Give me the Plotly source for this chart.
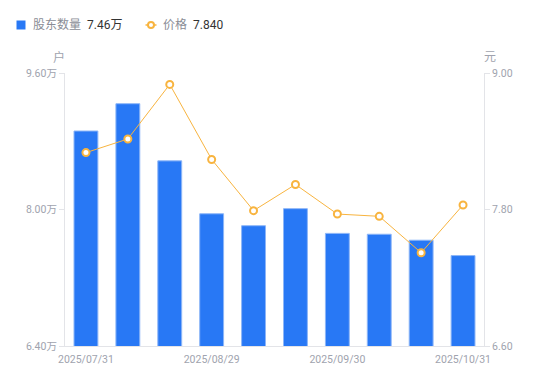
import plotly.graph_objects as go

dates = ["2025/07/31", "2025/08/08", "2025/08/20", "2025/08/29", "2025/09/10",
         "2025/09/19", "2025/09/30", "2025/10/10", "2025/10/20", "2025/10/31"]
holders_wan = [8.92, 9.24, 8.57, 7.95, 7.81, 8.01, 7.72, 7.71, 7.64, 7.46]
price = [8.30, 8.42, 8.90, 8.24, 7.79, 8.02, 7.76, 7.74, 7.42, 7.84]
x_tick_labels = ["2025/07/31", "2025/08/29", "2025/09/30", "2025/10/31"]
left_ticks = [6.4, 8.0, 9.6]
left_tick_text = ["6.40万", "8.00万", "9.60万"]
right_ticks = [6.6, 7.8, 9.0]

BLUE = "#2878F5"
ORANGE = "#F8B43F"
GRAY = "#a0a3ae"
AXIS = "#e3e4e8"
FONT = "Roboto, 'Noto Sans CJK SC', sans-serif"

OFF = 8  # page body margin
W, H = 542, 373
L, R, T, B = 57, 66, 65, 35
PW, PH = W - L - R, H - T - B


def px(x):
    return (x - OFF - L) / PW


def py(y):
    return (H - B - (y - OFF)) / PH


fig = go.Figure()
fig.add_trace(go.Bar(
    x=dates, y=holders_wan, width=0.57,
    marker=dict(color=BLUE, line=dict(color="#8db6f7", width=1)),
    yaxis="y", showlegend=False,
))
fig.add_trace(go.Scatter(
    x=dates, y=price, mode="lines+markers", yaxis="y2",
    line=dict(color=ORANGE, width=1),
    marker=dict(symbol="circle", size=7, color="white", line=dict(color=ORANGE, width=2)),
    showlegend=False,
))

tickfont = dict(family=FONT, size=10.5, color=GRAY)
fig.update_layout(
    width=W, height=H,
    margin=dict(l=L, r=R, t=T, b=B),
    plot_bgcolor="white", paper_bgcolor="white",
    font=dict(family=FONT),
    xaxis=dict(
        type="category", range=[-0.5, 9.5],
        tickvals=x_tick_labels, ticktext=x_tick_labels,
        tickfont=tickfont, showgrid=False, showline=True, linecolor=AXIS, linewidth=1,
        ticks="", zeroline=False, ticklabelstandoff=3,
    ),
    yaxis=dict(
        range=[6.4, 9.6], tickvals=left_ticks, ticktext=left_tick_text,
        tickfont=tickfont, showgrid=False, showline=True, linecolor=AXIS, linewidth=1,
        ticks="outside", ticklen=5, tickcolor=AXIS, zeroline=False,
    ),
    yaxis2=dict(
        range=[6.6, 9.0], tickvals=right_ticks, tickformat=".2f",
        overlaying="y", side="right",
        tickfont=tickfont, showgrid=False, showline=True, linecolor=AXIS, linewidth=1,
        ticks="outside", ticklen=5, tickcolor=AXIS, zeroline=False,
    ),
)

ann = []
def text(x, y, s, color, size=12, anchor="left"):
    ann.append(dict(x=px(x), y=py(y), xref="paper", yref="paper", text=s, showarrow=False,
                    xanchor=anchor, yanchor="middle",
                    font=dict(family=FONT, size=size, color=color)))

text(31, 25, "股东数量", "#8a8d96")
text(85, 25, "7.46万", "#333333")
text(161, 25, "价格", "#8a8d96")
text(191, 25, "7.840", "#333333")
text(58.5, 57, "户", GRAY, 12, "center")
text(490, 57, "元", GRAY, 12, "center")
fig.update_layout(annotations=ann)

shapes = [
    dict(type="rect", xref="paper", yref="paper", x0=px(16.5), x1=px(25.5), y0=py(20.5), y1=py(29.5),
         fillcolor=BLUE, line=dict(width=0)),
    dict(type="line", xref="paper", yref="paper", x0=px(145.5), x1=px(156.5), y0=py(25), y1=py(25),
         line=dict(color=ORANGE, width=1.5)),
    dict(type="circle", xref="paper", yref="paper", x0=px(148), x1=px(154), y0=py(22), y1=py(28),
         fillcolor="white", line=dict(color=ORANGE, width=2)),
]
fig.update_layout(shapes=shapes)

fig.write_html("out.html")
